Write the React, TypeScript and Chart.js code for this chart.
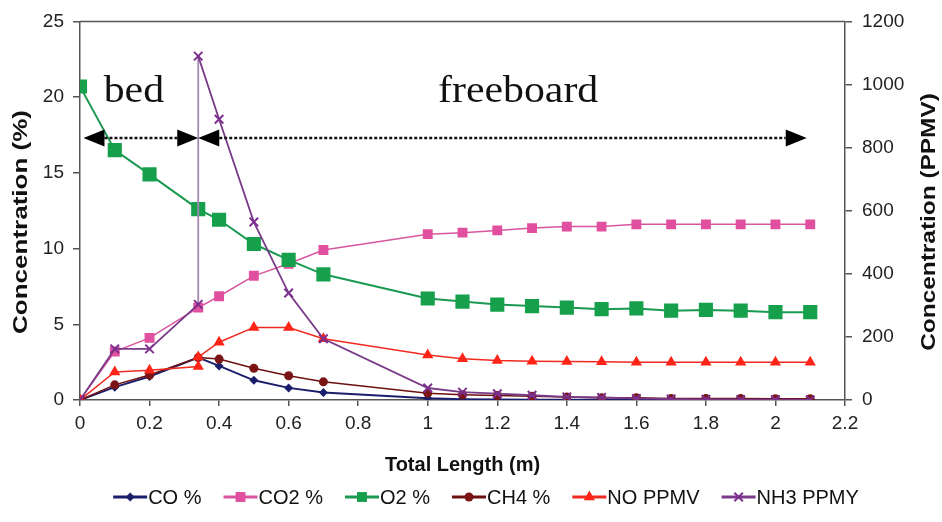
import React, { useEffect, useRef } from "react";
import { Chart, registerables } from "chart.js";

Chart.register(...registerables);

// ---- data ----
const lengthsPct = [0, 0.1, 0.2, 0.34, 0.4, 0.5, 0.6, 0.7, 1.0, 1.1, 1.2, 1.3, 1.4, 1.5, 1.6, 1.7, 1.8, 1.9, 2.0, 2.1];
const lengthsPpm = [0, 0.1, 0.2, 0.34, 0.34, 0.4, 0.5, 0.6, 0.7, 1.0, 1.1, 1.2, 1.3, 1.4, 1.5, 1.6, 1.7, 1.8, 1.9, 2.0, 2.1];

const coPct = [0, 0.85, 1.55, 2.8, 2.25, 1.3, 0.8, 0.5, 0.12, 0.05, 0.03, 0.02, 0.02, 0.02, 0.02, 0.02, 0.01, 0.01, 0.01, 0.01];
const co2Pct = [0, 3.2, 4.1, 6.1, 6.85, 8.2, 9.0, 9.9, 10.95, 11.05, 11.2, 11.35, 11.45, 11.45, 11.6, 11.6, 11.6, 11.6, 11.6, 11.6];
const o2Pct = [20.7, 16.5, 14.9, 12.6, 11.9, 10.3, 9.25, 8.3, 6.7, 6.5, 6.3, 6.2, 6.1, 6.0, 6.05, 5.9, 5.95, 5.9, 5.8, 5.8];
const ch4Pct = [0, 1.0, 1.65, 2.8, 2.7, 2.1, 1.6, 1.2, 0.45, 0.35, 0.3, 0.25, 0.2, 0.15, 0.15, 0.1, 0.1, 0.1, 0.08, 0.08];
const noPpmv = [0, 89, 94, 106, 136, 183, 230, 230, 194, 143, 131, 125, 123, 122, 121, 120, 120, 120, 120, 120, 120];
const nh3Ppmv = [0, 162, 162, 303, 1090, 890, 564, 339, 194, 38, 25, 20, 15, 10, 8, 5, 3, 2, 1, 1, 0];

const seriesNames = ["CO %", "CO2 %", "O2 %", "CH4 %", "NO PPMV", "NH3 PPMY"];

const xTitle = "Total Length (m)";
const yLeftTitle = "Concentration (%)";
const yRightTitle = "Concentration (PPMV)";

const zoneLabels = ["bed", "freeboard"];
const zoneLabelX = [0.155, 1.26];
const zoneLabelY = 19.7;
const zoneArrowY = 17.3;
const zoneBounds = [0.01, 0.34, 2.09];

// ---- styles ----
const styles = [
  { color: "#1b1f6b", line: "#1b1f6b", point: "rectRot", r: 4.5, lw: 2 },
  { color: "#e0509e", line: "#d8569e", point: "rect", r: 7, lw: 1.5 },
  { color: "#16a04c", line: "#1a9a50", point: "rect", r: 10, lw: 2 },
  { color: "#7b1414", line: "#6d1010", point: "circle", r: 4.5, lw: 1.5 },
  { color: "#ff2418", line: "#f02a20", point: "triangle", r: 6.5, lw: 1.5 },
  { color: "#7d2f8e", line: "#7a3a8a", point: "crossRot", r: 6, lw: 1.8 },
];

const toXY = (xs: number[], ys: number[]) => xs.map((x, i) => ({ x, y: ys[i] }));

function drawMarker(ctx: CanvasRenderingContext2D, style: string, x: number, y: number, r: number, color: string) {
  ctx.save();
  ctx.fillStyle = color;
  ctx.strokeStyle = color;
  ctx.lineWidth = 2;
  ctx.beginPath();
  if (style === "rect") {
    const s = r * Math.SQRT1_2;
    ctx.rect(x - s, y - s, 2 * s, 2 * s);
    ctx.fill();
  } else if (style === "rectRot") {
    ctx.moveTo(x, y - r);
    ctx.lineTo(x + r, y);
    ctx.lineTo(x, y + r);
    ctx.lineTo(x - r, y);
    ctx.closePath();
    ctx.fill();
  } else if (style === "circle") {
    ctx.arc(x, y, r, 0, Math.PI * 2);
    ctx.fill();
  } else if (style === "triangle") {
    ctx.moveTo(x, y - r);
    ctx.lineTo(x + r * 0.866, y + r * 0.5);
    ctx.lineTo(x - r * 0.866, y + r * 0.5);
    ctx.closePath();
    ctx.fill();
  } else if (style === "crossRot") {
    const s = r * Math.SQRT1_2;
    ctx.moveTo(x - s, y - s);
    ctx.lineTo(x + s, y + s);
    ctx.moveTo(x + s, y - s);
    ctx.lineTo(x - s, y + s);
    ctx.stroke();
  }
  ctx.restore();
}

const overlayPlugin = {
  id: "overlay",
  afterDatasetsDraw(chart: any) {
    const ctx: CanvasRenderingContext2D = chart.ctx;
    const xs = chart.scales.x;
    const ys = chart.scales.y;
    const ca = chart.chartArea;
    ctx.save();
    // top frame line
    ctx.strokeStyle = "#555";
    ctx.lineWidth = 1.5;
    ctx.beginPath();
    ctx.moveTo(ca.left, ca.top);
    ctx.lineTo(ca.right, ca.top);
    ctx.stroke();

    // zone arrows
    const ay = ys.getPixelForValue(zoneArrowY);
    const aL = 21;
    const aH = 8.5;
    const px = zoneBounds.map((v) => xs.getPixelForValue(v));
    ctx.strokeStyle = "#111";
    ctx.fillStyle = "#000";
    ctx.lineWidth = 2.5;
    ctx.setLineDash([3, 2]);
    for (let i = 0; i < px.length - 1; i++) {
      ctx.beginPath();
      ctx.moveTo(px[i] + aL, ay);
      ctx.lineTo(px[i + 1] - aL, ay);
      ctx.stroke();
    }
    ctx.setLineDash([]);
    const head = (tip: number, dir: number) => {
      ctx.beginPath();
      ctx.moveTo(tip, ay);
      ctx.lineTo(tip - dir * aL, ay - aH);
      ctx.lineTo(tip - dir * aL, ay + aH);
      ctx.closePath();
      ctx.fill();
    };
    for (let i = 0; i < px.length - 1; i++) {
      head(px[i], -1);
      head(px[i + 1], 1);
    }

    // zone labels
    ctx.fillStyle = "#111";
    ctx.font = "38px 'Liberation Serif', 'Times New Roman', serif";
    ctx.textAlign = "center";
    ctx.textBaseline = "alphabetic";
    const ly = ys.getPixelForValue(zoneLabelY);
    zoneLabels.forEach((t, i) => {
      const lx = xs.getPixelForValue(zoneLabelX[i]);
      ctx.save();
      ctx.translate(lx, ly);
      ctx.scale(1.1, 1);
      ctx.fillText(t, 0, 0);
      ctx.restore();
    });
    ctx.restore();
  },
  afterDraw(chart: any) {
    const ctx: CanvasRenderingContext2D = chart.ctx;
    const ca = chart.chartArea;
    ctx.save();
    ctx.fillStyle = "#111";
    ctx.font = "bold 20px 'Liberation Sans', Arial, sans-serif";
    ctx.textAlign = "center";
    ctx.textBaseline = "middle";
    // x title
    ctx.fillText(xTitle, (ca.left + ca.right) / 2, 465);
    // y titles
    const vt = (t: string, cx: number, cy: number, sx: number) => {
      ctx.save();
      ctx.translate(cx, cy);
      ctx.rotate(-Math.PI / 2);
      ctx.scale(sx, 1);
      ctx.fillText(t, 0, 0);
      ctx.restore();
    };
    vt(yLeftTitle, 21, 222, 1.3);
    vt(yRightTitle, 929, 222, 1.22);

    // legend
    ctx.font = "20px 'Liberation Sans', Arial, sans-serif";
    ctx.textAlign = "left";
    const lineLen = 34;
    const gapText = 1;
    const gapItem = 22;
    const widths = seriesNames.map((n) => lineLen + gapText + ctx.measureText(n).width);
    const total = widths.reduce((a, b) => a + b, 0) + gapItem * (widths.length - 1);
    let lx = 486 - total / 2;
    const ly = 497;
    seriesNames.forEach((n, i) => {
      const st = styles[i];
      ctx.strokeStyle = st.line;
      ctx.lineWidth = 3;
      ctx.beginPath();
      ctx.moveTo(lx, ly);
      ctx.lineTo(lx + lineLen, ly);
      ctx.stroke();
      drawMarker(ctx, st.point, lx + lineLen / 2, ly, Math.min(st.r, 7), st.color);
      ctx.fillStyle = "#111";
      ctx.fillText(n, lx + lineLen + gapText, ly + 1);
      lx += widths[i] + gapItem;
    });
    ctx.restore();
  },
};

export default function App() {
  const ref = useRef<HTMLCanvasElement | null>(null);
  useEffect(() => {
    if (!ref.current) return;
    const mk = (i: number, data: any[], axis: string, order: number) => ({
      label: seriesNames[i],
      data,
      yAxisID: axis,
      order,
      borderColor: styles[i].line,
      backgroundColor: styles[i].color,
      pointBackgroundColor: styles[i].color,
      pointBorderColor: styles[i].color,
      pointStyle: styles[i].point,
      pointRadius: styles[i].r,
      pointBorderWidth: styles[i].point === "crossRot" ? 2 : 0,
      borderWidth: styles[i].lw,
      tension: 0,
      fill: false,
      segment:
        i === 5
          ? {
              borderColor: (c: any) => (c.p0.parsed.x === c.p1.parsed.x ? "#a587b5" : undefined),
            }
          : undefined,
    });
    const tickFont = { family: "'Liberation Sans', Arial, sans-serif", size: 19 };
    const plain = (v: any) => String(Math.round(Number(v) * 10) / 10);
    const chart = new Chart(ref.current, {
      type: "line",
      data: {
        datasets: [
          mk(0, toXY(lengthsPct, coPct), "y", 6),
          mk(1, toXY(lengthsPct, co2Pct), "y", 5),
          mk(2, toXY(lengthsPct, o2Pct), "y", 4),
          mk(3, toXY(lengthsPct, ch4Pct), "y", 3),
          mk(4, toXY(lengthsPpm, noPpmv), "y2", 2),
          mk(5, toXY(lengthsPpm, nh3Ppmv), "y2", 1),
        ] as any,
      },
      options: {
        responsive: false,
        animation: false,
        layout: { padding: { top: 17, left: 0, right: 0, bottom: 0 } },
        plugins: { legend: { display: false }, tooltip: { enabled: false } },
        scales: {
          x: {
            type: "linear",
            min: 0,
            max: 2.2,
            ticks: {
              stepSize: 0.2,
              font: tickFont,
              color: "#222",
              padding: 6,
              maxRotation: 0,
              callback: plain,
            },
            grid: { drawOnChartArea: false, drawTicks: true, tickLength: 6, color: "#555", lineWidth: 1.5 },
            border: { display: true, color: "#555", width: 1.5 },
            afterFit: (s: any) => {
              s.height = 122;
            },
          },
          y: {
            position: "left",
            min: 0,
            max: 25,
            ticks: { stepSize: 5, font: tickFont, color: "#222", padding: 9, callback: plain },
            grid: { drawOnChartArea: false, drawTicks: true, tickLength: 7, color: "#555", lineWidth: 1.5 },
            border: { display: true, color: "#555", width: 1.5 },
            afterFit: (s: any) => {
              s.width = 80;
            },
          },
          y2: {
            position: "right",
            min: 0,
            max: 1200,
            ticks: { stepSize: 200, font: tickFont, color: "#222", padding: 10, callback: plain },
            grid: { drawOnChartArea: false, drawTicks: true, tickLength: 7, color: "#555", lineWidth: 1.5 },
            border: { display: true, color: "#555", width: 1.5 },
            afterFit: (s: any) => {
              s.width = 97;
            },
          },
        },
      } as any,
      plugins: [overlayPlugin],
    });
    return () => chart.destroy();
  }, []);
  return (
    <div style={{ position: "absolute", left: 0, top: 0, width: 942, height: 522, background: "#fff" }}>
      <canvas ref={ref} width={942} height={522} style={{ display: "block" }} />
    </div>
  );
}
